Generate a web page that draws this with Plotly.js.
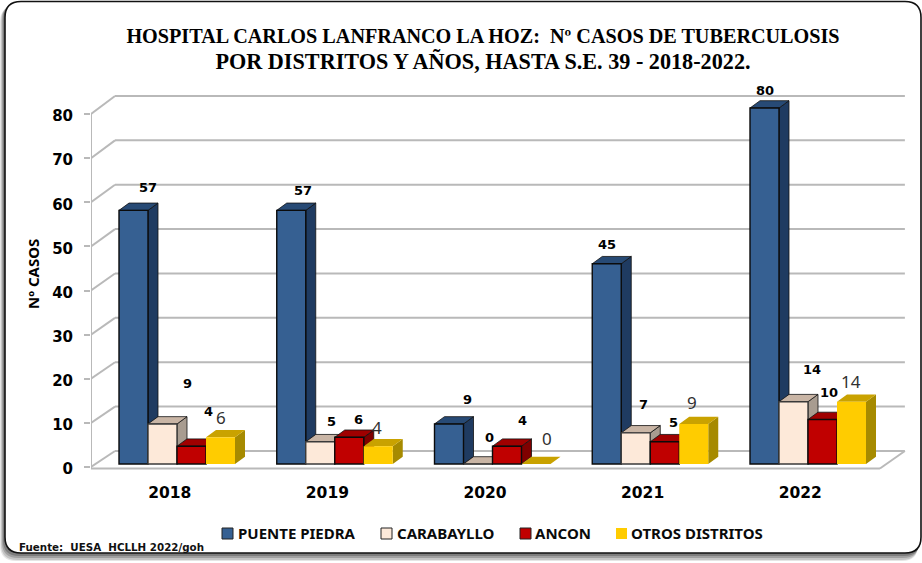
<!DOCTYPE html>
<html>
<head>
<meta charset="utf-8">
<script src="https://cdn.plot.ly/plotly-3.0.1.min.js"></script>
<style>html,body{margin:0;padding:0;background:#fff;overflow:hidden}#c{width:922px;height:563px}</style>
</head>
<body>
<div id="c"></div>
<script>
const years = ['2018','2019','2020','2021','2022'];
const seriesNames = ['PUENTE PIEDRA','CARABAYLLO','ANCON','OTROS DISTRITOS'];
const puentePiedra = [57,57,9,45,80];
const carabayllo = [9,5,0,7,14];
const ancon = [4,6,4,5,10];
const otros = [6,4,0,9,14];
const yTicks = [0,10,20,30,40,50,60,70,80];

const seriesValues = [puentePiedra,carabayllo,ancon,otros];
const frontColor = ['#366092','#FDE9D9','#C00000','#FFCC00'];
const sideColor = ['#1F3B61','#A89C90','#7F0000','#A68A00'];
const topColor = ['#274A75','#C9B5A5','#A00000','#C9A200'];
const edgeColor = ['#0b0b0b','#3a3a3a','#0b0b0b','#FFCC00'];

// label nudges in pixels [right, up], the reference places its labels by hand
const labelNudge = [
  [[14.5,23],[12,20],[18,24],[0,19],[0,18]],
  [[24.5,40],[11,20],[11,27],[8,28],[18,32]],
  [[16.5,35],[9,18],[15,26],[9,19],[6,27]],
  [[0,20],[-1,19],[11,26],[-2,21],[-1,20]]
];

// plot frame in pixels; it reaches past the 0-80 box so the 3D walls and floor fit inside
const W=922,H=563,L=91,R=915,T=80,B=476;
const frontZero=467, frontUnit=4.4125, catZero=169.8, catStep=157.6;
const px2 = {x:v=>(v-L)/(R-L), y:v=>(B-v)/(B-T)};

const barStep=157.75, barCenter0=177, barW=29, yUnit=4.45, yBase=464;
const x2Range=[(L-barCenter0)/barStep,(R-barCenter0)/barStep];
const y2Range=[(yBase-B)/yUnit,(yBase-T)/yUnit];
const dx=10/barStep, dy=7.3/yUnit, w=barW/barStep;

const traces=[];
// depth faces, below the bars
seriesValues.forEach((vals,s)=>{
  const sx=[],sy=[],tx=[],ty=[];
  vals.forEach((v,i)=>{
    const l=i+(s-2)*w, r=l+w;
    sx.push(r,r+dx,r+dx,r,r,null); sy.push(0,dy,v+dy,v,0,null);
    tx.push(l,r,r+dx,l+dx,l,null); ty.push(v,v,v+dy,v+dy,v,null);
  });
  const common={type:'scatter',mode:'lines',fill:'toself',xaxis:'x2',yaxis:'y2',cliponaxis:false,hoverinfo:'skip',showlegend:false};
  traces.push(Object.assign({x:sx,y:sy,fillcolor:sideColor[s],line:{color:s===3?sideColor[s]:'#111',width:s===3?0:0.8}},common));
  traces.push(Object.assign({x:tx,y:ty,fillcolor:topColor[s],line:{color:s===3?topColor[s]:'#111',width:s===3?0:0.8}},common));
});
// front faces
seriesValues.forEach((vals,s)=>{
  traces.push({type:'bar',name:seriesNames[s],x:years.map((_,i)=>i),y:vals,xaxis:'x3',yaxis:'y3',cliponaxis:false,
    marker:{color:frontColor[s],line:{color:edgeColor[s],width:s===3?0:1.4}},showlegend:false,hoverinfo:'y'});
});

const GRID='#b9b9b9';
const backX=24/catStep;
const backY=v=>v*1.0057+3.63;
const xL=-0.5, xR=4.5;
const shapes=[];
// panel with soft shadow
function rr(x0,y0,x1,y1,r){
  const fx=px2.x,fy=px2.y;
  return `M${fx(x0+r)},${fy(y0)}L${fx(x1-r)},${fy(y0)}Q${fx(x1)},${fy(y0)} ${fx(x1)},${fy(y0+r)}L${fx(x1)},${fy(y1-r)}Q${fx(x1)},${fy(y1)} ${fx(x1-r)},${fy(y1)}L${fx(x0+r)},${fy(y1)}Q${fx(x0)},${fy(y1)} ${fx(x0)},${fy(y1-r)}L${fx(x0)},${fy(y0+r)}Q${fx(x0)},${fy(y0)} ${fx(x0+r)},${fy(y0)}Z`;
}
[[0,6,918,561,'rgba(0,0,0,0.10)'],[1,5,918,560,'rgba(0,0,0,0.14)'],[2,4,919,558,'rgba(0,0,0,0.18)'],[3,3,920,556,'rgba(0,0,0,0.22)']].forEach(a=>{
  shapes.push({type:'path',xref:'paper',yref:'paper',layer:'below',path:rr(a[0],a[1],a[2],a[3],16),fillcolor:a[4],line:{width:0}});
});
shapes.push({type:'path',xref:'paper',yref:'paper',layer:'below',path:rr(5,1.5,921,553,16),fillcolor:'#fff',line:{color:'#111',width:1.6}});
// walls
yTicks.forEach(v=>{
  shapes.push({type:'line',xref:'x',yref:'y',layer:'below',x0:xL+backX,x1:xL+backX+(xR-xL)+0.012,y0:backY(v),y1:backY(v),line:{color:GRID,width:2}});
  shapes.push({type:'line',xref:'x',yref:'y',layer:'below',x0:xL,x1:xL+backX,y0:v,y1:backY(v),line:{color:GRID,width:2}});
});
// axis line and floor
shapes.push({type:'line',xref:'x',yref:'y',layer:'below',x0:xL,x1:xL,y0:-0.35,y1:80,line:{color:GRID,width:2}});
shapes.push({type:'line',xref:'x',yref:'y',layer:'below',x0:xL,x1:xR+0.006,y0:-0.35,y1:-0.35,line:{color:GRID,width:2}});
shapes.push({type:'line',xref:'x',yref:'y',layer:'below',x0:xR+0.006,x1:xR+backX+0.012,y0:-0.35,y1:backY(0),line:{color:GRID,width:2}});

// legend
const legendSwatchX=[222,381,520,616], legendTextX=[237,396,534,630];
const annotations=[];
seriesNames.forEach((n,s)=>{
  shapes.push({type:'rect',xref:'paper',yref:'paper',layer:'below',x0:px2.x(legendSwatchX[s]),x1:px2.x(legendSwatchX[s]+11),y0:px2.y(539),y1:px2.y(528),
    fillcolor:frontColor[s],line:{color:s===3?frontColor[s]:'#222',width:s===3?0:1}});
  annotations.push({xref:'paper',yref:'paper',x:px2.x(legendTextX[s]),y:px2.y(533),xanchor:'left',yanchor:'middle',showarrow:false,borderpad:0,
    text:n,font:{family:'"Noto Sans"',size:15,color:'#0a0a0a',weight:700}});
});
// value labels
seriesValues.forEach((vals,s)=>{
  vals.forEach((v,i)=>{
    annotations.push({xref:'x3',yref:'y3',x:i+(s-1.5)*w,y:v,xanchor:'center',yanchor:'middle',showarrow:false,
      xshift:labelNudge[s][i][0],yshift:labelNudge[s][i][1],text:String(v),
      font:s===3?{family:'"Noto Sans"',size:17,color:'#303030'}:{family:'"DejaVu Sans"',size:13,color:'#000',weight:700}});
  });
});
annotations.push({xref:'paper',yref:'paper',x:px2.x(18),y:px2.y(547),xanchor:'left',yanchor:'middle',showarrow:false,borderpad:0,
  text:'Fuente:&nbsp; UESA&nbsp; HCLLH 2022/goh',font:{family:'"DejaVu Sans"',size:10.3,color:'#111',weight:700}});
annotations.push({xref:'paper',yref:'paper',x:px2.x(33),y:px2.y(274),xanchor:'center',yanchor:'middle',showarrow:false,textangle:-90,
  text:'Nº CASOS',font:{family:'"Noto Sans"',size:15,color:'#000',weight:700}});

const layout={
  width:W,height:H,margin:{l:L,r:W-R,t:T,b:H-B,pad:0},paper_bgcolor:'#fff',plot_bgcolor:'rgba(0,0,0,0)',showlegend:false,
  barmode:'group',bargap:1-4*w,bargroupgap:0,
  title:{text:'HOSPITAL CARLOS LANFRANCO LA HOZ:&nbsp; Nº CASOS DE TUBERCULOSIS<br><span style="font-size:22.2px">POR DISTRITOS Y AÑOS, HASTA S.E. 39 - 2018-2022.</span>',
    x:483/W,xanchor:'center',y:1-42.5/H,yanchor:'middle',font:{family:'"Liberation Serif"',size:20.2,color:'#000',weight:700}},
  xaxis:{type:'linear',range:[xL,(R-catZero)/catStep],tickmode:'array',tickvals:years.map((_,i)=>i),ticktext:years,showgrid:false,zeroline:false,showline:false,ticks:'',
    ticklabelstandoff:5,tickfont:{family:'"DejaVu Sans"',size:15.5,color:'#000',weight:700}},
  yaxis:{type:'linear',range:[(frontZero-B)/frontUnit,(frontZero-T)/frontUnit],tickmode:'array',tickvals:yTicks,showgrid:false,zeroline:false,showline:false,
    ticks:'outside',ticklen:6,tickwidth:2,tickcolor:GRID,ticklabelstandoff:8,ticklabelshift:2,tickfont:{family:'"DejaVu Sans"',size:15,color:'#000',weight:700}},
  xaxis2:{type:'linear',range:x2Range,overlaying:'x',anchor:'y2',visible:false},
  yaxis2:{type:'linear',range:y2Range,overlaying:'y',anchor:'x2',visible:false},
  xaxis3:{type:'linear',range:x2Range,overlaying:'x',anchor:'y3',visible:false},
  yaxis3:{type:'linear',range:y2Range,overlaying:'y',anchor:'x3',visible:false},
  shapes,annotations
};
Plotly.newPlot('c',traces,layout,{displayModeBar:false,staticPlot:true});
</script>
</body>
</html>
